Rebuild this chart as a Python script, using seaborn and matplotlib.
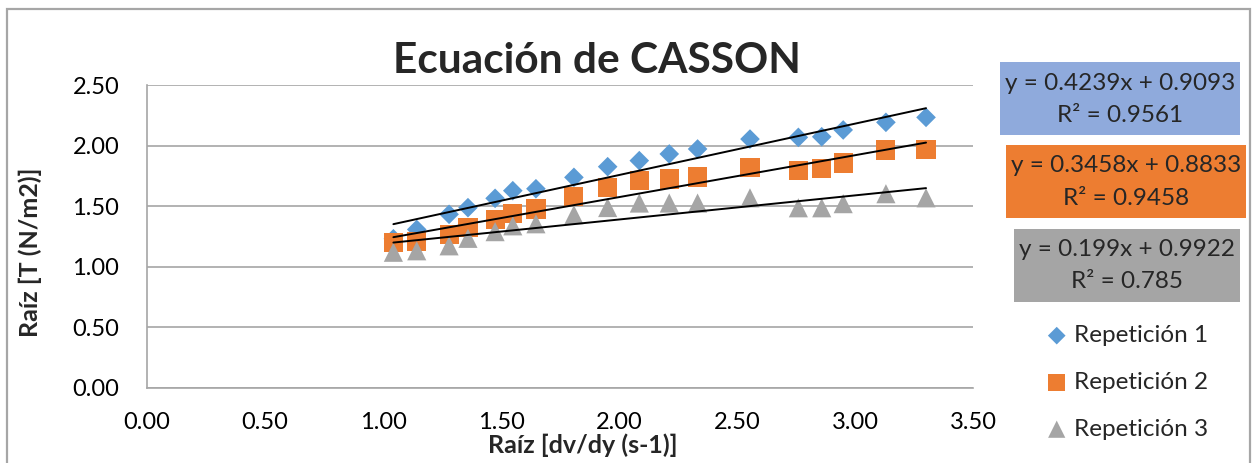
import numpy as np
import pandas as pd
import matplotlib
matplotlib.use("Agg")
import matplotlib.pyplot as plt
from matplotlib.patches import Rectangle
import seaborn as sns

# Square root of shear rate, shared by all three repetitions
raiz_dvdy = [1.044, 1.143, 1.280, 1.360, 1.475, 1.550, 1.648, 1.809, 1.952,
             2.086, 2.213, 2.333, 2.555, 2.760, 2.859, 2.950, 3.131, 3.301]

# Square root of shear stress for each repetition
rep1 = [1.231, 1.308, 1.433, 1.488, 1.565, 1.628, 1.644, 1.738, 1.826,
        1.876, 1.931, 1.972, 2.054, 2.068, 2.073, 2.129, 2.192, 2.233]
rep2 = [1.198, 1.210, 1.265, 1.327, 1.393, 1.441, 1.477, 1.582, 1.656,
        1.709, 1.724, 1.741, 1.817, 1.792, 1.813, 1.856, 1.964, 1.969]
rep3 = [1.120, 1.132, 1.173, 1.235, 1.290, 1.338, 1.355, 1.430, 1.489,
        1.526, 1.526, 1.526, 1.569, 1.487, 1.487, 1.521, 1.603, 1.569]

series_names = ["Repetición 1", "Repetición 2", "Repetición 3"]

# Linear trendline coefficients and fit quality
slopes = [0.4239, 0.3458, 0.199]
intercepts = [0.9093, 0.8833, 0.9922]
r_squared = [0.9561, 0.9458, 0.785]

x_ticks = [0.0, 0.5, 1.0, 1.5, 2.0, 2.5, 3.0, 3.5]
y_ticks = [0.0, 0.5, 1.0, 1.5, 2.0, 2.5]

marker_colors = ["#5B9BD5", "#ED7D31", "#A5A5A5"]
box_colors = ["#8FAADC", "#ED7D31", "#A5A5A5"]
markers = ["D", "s", "^"]
marker_sizes = [100, 190, 190]

sns.set_style("white")
plt.rcParams["font.family"] = ["Lato", "DejaVu Sans"]

W, H = 1252, 463
fig = plt.figure(figsize=(W / 100, H / 100), dpi=100)


def fx(px):
    return px / W


def fy(py):
    return 1 - py / H


ax = fig.add_axes([fx(147), fy(388), fx(973) - fx(147), fy(85) - fy(388)])

frames = []
for name, vals in zip(series_names, [rep1, rep2, rep3]):
    frames.append(pd.DataFrame({"x": raiz_dvdy, "y": vals, "serie": name}))
data = pd.concat(frames, ignore_index=True)

# Trendlines first so the markers sit on top
for name, m, b in zip(series_names, slopes, intercepts):
    sub = data[data["serie"] == name]
    xs = np.array([sub["x"].min(), sub["x"].max()])
    ax.plot(xs, m * xs + b, color="black", lw=1.4, zorder=3)

handles = []
for name, col, mk, sz in zip(series_names, marker_colors, markers, marker_sizes):
    sub = data[data["serie"] == name]
    sns.scatterplot(data=sub, x="x", y="y", ax=ax, marker=mk, s=sz, color=col,
                    edgecolor="none", linewidth=0, zorder=2, legend=False)
    handles.append(ax.collections[-1])

ax.set_xlim(0, 3.5)
ax.set_ylim(0, 2.5)
ax.set_xticks(x_ticks)
ax.set_yticks(y_ticks)
ax.set_xticklabels([f"{v:.2f}" for v in x_ticks])
ax.set_yticklabels([f"{v:.2f}" for v in y_ticks])
ax.tick_params(axis="both", length=0, labelsize=17, colors="#000000")
ax.tick_params(axis="x", pad=17)
ax.tick_params(axis="y", pad=20)

ax.grid(axis="y", color="#A6A6A6", lw=1.2)
ax.grid(axis="x", visible=False)
ax.set_axisbelow(True)
for side in ["top", "right"]:
    ax.spines[side].set_visible(False)
for side in ["left", "bottom"]:
    ax.spines[side].set_color("#A6A6A6")
    ax.spines[side].set_linewidth(1.2)

ax.set_xlabel("Raíz [dv/dy (s-1)]", fontsize=18, fontweight="bold")
ax.xaxis.set_label_coords((583 - 147) / 826, (388 - 445) / 303)
ax.xaxis.label.set_va("center")
ax.set_ylabel("Raíz [T (N/m2)]", fontsize=18, fontweight="bold")
ax.yaxis.set_label_coords((30 - 147) / 826, (388 - 252) / 303)
ax.yaxis.label.set_va("center")

fig.text(fx(597), fy(61), "Ecuación de CASSON", fontsize=30.5, fontweight="bold",
         ha="center", va="center")

# Trendline equation boxes
boxes = [(1000, 62, 1240, 135), (1006, 145, 1246, 218), (1014, 229, 1240, 302)]
for (x0, y0, x1, y1), col, m, b, r2 in zip(boxes, box_colors, slopes,
                                            intercepts, r_squared):
    fig.add_artist(Rectangle((fx(x0), fy(y1)), fx(x1) - fx(x0), fy(y0) - fy(y1),
                             transform=fig.transFigure, facecolor=col,
                             edgecolor="none", zorder=1))
    cx = (x0 + x1) / 2
    cy = (y0 + y1) / 2
    fig.text(fx(cx), fy(cy - 15.5), f"y = {m:g}x + {b:g}", fontsize=17.5,
             ha="center", va="center", zorder=2)
    fig.text(fx(cx), fy(cy + 16.5), f"R² = {r2:g}", fontsize=17.5,
             ha="center", va="center", zorder=2)

fig.legend(handles, series_names, loc="upper left",
           bbox_to_anchor=(fx(1047), fy(325)), frameon=False, fontsize=17.5,
           labelspacing=1.06, handlelength=0.8, handletextpad=0.3,
           borderpad=0, borderaxespad=0, scatterpoints=1, markerscale=0.9)

# Outer chart frame
fig.add_artist(Rectangle((fx(7), fy(475)), fx(1250) - fx(7), fy(9) - fy(475),
                         transform=fig.transFigure, facecolor="none",
                         edgecolor="#A6A6A6", lw=1.6, zorder=0))

fig.savefig("out.png", dpi=100)
